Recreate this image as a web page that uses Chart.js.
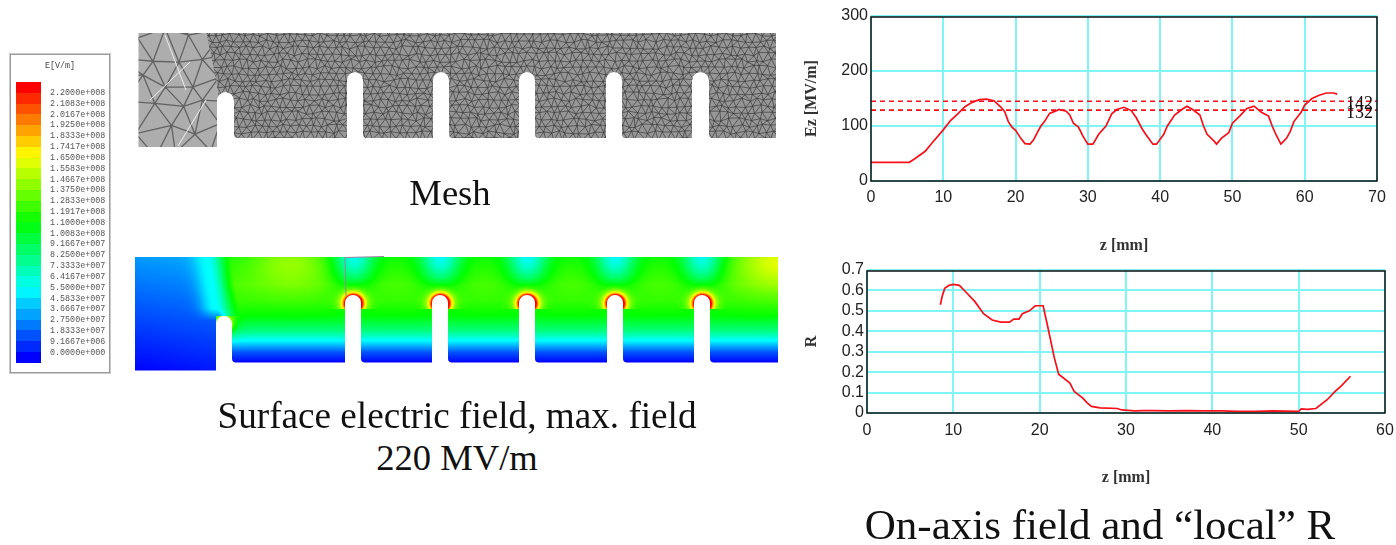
<!DOCTYPE html>
<html>
<head>
<meta charset="utf-8">
<title>Surface field and on-axis field</title>
<script src="https://cdn.jsdelivr.net/npm/chart.js@4/dist/chart.umd.min.js"></script>
<style>
    html, body { margin: 0; padding: 0; background: #fff; width: 1396px; height: 545px; overflow: hidden; }
    canvas, .caption, #scale { position: absolute; }
    #drawing { left: 0; top: 0; filter: blur(0.6px); }
    #ezChart { left: 800px; top: 0; filter: blur(0.35px); }
    #rChart { left: 800px; top: 255px; filter: blur(0.35px); }
    .caption { font-family: "Liberation Serif", serif; font-size: 36.6px; color: #111; white-space: nowrap; transform: translateX(-50%); line-height: 40px; }
    #scale { left: 10px; top: 54px; width: 98px; height: 317px; border: 1px solid #999; box-shadow: 0 0 0 1px #ccc; background: #fff; filter: blur(0.4px); }
    #scale .title { position: absolute; left: 0; width: 100%; top: 6px; text-align: center; font: 8.4px "Liberation Mono", monospace; color: #444; }
    #scale .swatch { position: absolute; left: 5px; width: 25px; }
    #scale .value { position: absolute; left: 39px; font: 8.4px/10px "Liberation Mono", monospace; color: #555; white-space: nowrap; }
</style>
</head>
<body>
<canvas id="drawing" width="800" height="400"></canvas>
<div id="scale"><div class="title">E[V/m]</div></div>
<canvas id="ezChart" width="596" height="255"></canvas>
<canvas id="rChart" width="596" height="290"></canvas>
<div class="caption" style="left:450px;top:173px">Mesh</div>
<div class="caption" style="left:457px;top:396px;font-size:37.2px">Surface electric field, max. field</div>
<div class="caption" style="left:457px;top:438px">220 MV/m</div>
<div class="caption" style="left:1100px;top:505px;font-size:43px">On-axis field and “local” R</div>

<script>
const scaleLabels = [
    '2.2000e+008', '2.1083e+008', '2.0167e+008', '1.9250e+008', '1.8333e+008',
    '1.7417e+008', '1.6500e+008', '1.5583e+008', '1.4667e+008', '1.3750e+008',
    '1.2833e+008', '1.1917e+008', '1.1000e+008', '1.0083e+008', '9.1667e+007',
    '8.2500e+007', '7.3333e+007', '6.4167e+007', '5.5000e+007', '4.5833e+007',
    '3.6667e+007', '2.7500e+007', '1.8333e+007', '9.1667e+006', '0.0000e+000',
];

// on-axis field
const ezZ = [0, 5.3, 6, 7.5, 8.5, 10, 11, 12, 13, 14, 15, 16, 17, 18, 18.5, 19, 19.5, 20, 20.7, 21.3, 22, 22.5, 23, 23.5, 24, 24.7, 25.5, 26, 27, 27.5, 28, 28.7, 29.3, 30, 30.7, 31.5, 32.5, 33.3, 34, 35, 36, 36.7, 37.5, 38, 39, 39.5, 40.5, 41, 42, 43, 43.7, 44.5, 45.5, 46, 46.5, 47.5, 47.8, 48.5, 49.5, 50, 51, 52, 53, 54, 55, 55.5, 56, 56.7, 57.5, 58, 58.5, 59.5, 60, 61, 62, 63, 64, 64.5];
const ezValues = [34, 34, 40, 54, 70, 93, 110, 122, 135, 143, 148, 149, 146, 134, 126, 108, 98, 92, 78, 68, 67, 75, 88, 100, 108, 123, 127, 130, 127, 120, 105, 98, 82, 67, 67, 85, 100, 122, 130, 134, 128, 115, 95, 85, 67, 67, 85, 100, 120, 130, 136, 130, 120, 100, 85, 72, 67, 78, 88, 105, 118, 132, 136, 125, 118, 100, 85, 67, 78, 90, 108, 125, 138, 150, 156, 160, 160, 158];
const ezMarkerValues = [145, 129];
const ezMarkerLabels = ['142', '132'];
const ezXTicks = [0, 10, 20, 30, 40, 50, 60, 70];
const ezYTicks = [0, 100, 200, 300];

// "local" R
const rZ = [8.5, 8.7, 9, 9.5, 10, 10.7, 11.5, 12.5, 13.5, 14.5, 15.5, 16.5, 17, 17.6, 18, 18.8, 19.5, 20.4, 21, 21.7, 22.2, 23.5, 24, 25, 25.5, 26, 27, 29, 29.5, 31, 32, 33, 35, 37, 39, 41, 43, 45, 47, 50, 50.3, 51, 52, 53.3, 54.2, 55, 56];
const rValues = [0.53, 0.57, 0.61, 0.625, 0.63, 0.625, 0.59, 0.545, 0.486, 0.455, 0.445, 0.445, 0.46, 0.46, 0.486, 0.5, 0.525, 0.525, 0.41, 0.27, 0.19, 0.146, 0.105, 0.073, 0.05, 0.032, 0.025, 0.022, 0.015, 0.01, 0.012, 0.012, 0.01, 0.012, 0.01, 0.01, 0.008, 0.008, 0.01, 0.008, 0.02, 0.018, 0.022, 0.065, 0.105, 0.135, 0.18];
const rXTicks = [0, 10, 20, 30, 40, 50, 60];
const rYTicks = [0, 0.1, 0.2, 0.3, 0.4, 0.5, 0.6, 0.7];

const toPoints = (xs, ys) => xs.map((x, i) => ({ x, y: ys[i] }));

function heatColor(v) {
    const t = Math.max(0, Math.min(1, v)) * 4;
    if (t < 1) return [0, 255 * t, 255];
    if (t < 2) return [0, 255, 255 * (2 - t)];
    if (t < 3) return [255 * (t - 2), 255, 0];
    return [255, 255 * (4 - t), 0];
}

// colour scale panel
const scaleBox = document.getElementById('scale');
for (let i = 0; i < 26; i++) {
    const s = document.createElement('div');
    const c = heatColor(1 - i / 25).map(Math.round);
    s.className = 'swatch';
    s.style.top = (27 + i * 10.8) + 'px';
    s.style.height = '11px';
    s.style.background = `rgb(${c.join(',')})`;
    scaleBox.appendChild(s);
}
scaleLabels.forEach((label, i) => {
    const v = document.createElement('div');
    v.className = 'value';
    v.style.top = (33 + i * 10.82) + 'px';
    v.textContent = label;
    scaleBox.appendChild(v);
});

// ---- cavity drawings (illustration, not chart data) ----
const ctx = document.getElementById('drawing').getContext('2d');

function cavityPath(c, left, right, top, blockBottom, bottom, firstSlot, slots) {
    const r = (firstSlot[1] - firstSlot[0]) / 2;
    const fillet = 4;
    c.beginPath();
    c.moveTo(left, top);
    c.lineTo(right, top);
    c.lineTo(right, bottom);
    for (let i = slots.length - 1; i >= 0; i--) {
        const s = slots[i];
        const sr = (s[1] - s[0]) / 2;
        c.lineTo(s[1] + fillet, bottom);
        c.quadraticCurveTo(s[1], bottom, s[1], bottom - fillet);
        c.lineTo(s[1], s[2] + sr);
        c.arc(s[0] + sr, s[2] + sr, sr, 0, Math.PI, true);
        c.lineTo(s[0], bottom);
    }
    c.lineTo(firstSlot[1] + fillet, bottom);
    c.quadraticCurveTo(firstSlot[1], bottom, firstSlot[1], bottom - fillet);
    c.lineTo(firstSlot[1], firstSlot[2] + r);
    c.arc(firstSlot[0] + r, firstSlot[2] + r, r, 0, Math.PI, true);
    c.lineTo(firstSlot[0], blockBottom);
    c.lineTo(left, blockBottom);
    c.closePath();
}

function jitter(i, j, k) {
    const s = Math.sin(i * 127.1 + j * 311.7 + k * 74.7) * 43758.5453;
    return s - Math.floor(s) - 0.5;
}

function drawMeshGrid(c, x0, y0, x1, y1, cell, amount) {
    const p = (i, j) => [
        x0 + (i + (j % 2) * 0.5) * cell + jitter(i, j, 1) * cell * amount,
        y0 + j * cell * 0.87 + jitter(i, j, 2) * cell * amount,
    ];
    const nx = Math.ceil((x1 - x0) / cell) + 2;
    const ny = Math.ceil((y1 - y0) / (cell * 0.87)) + 2;
    c.beginPath();
    for (let j = -1; j < ny; j++) {
        for (let i = -1; i < nx; i++) {
            const a = p(i, j), b = p(i + 1, j), d = p(i + (j % 2 ? 1 : 0), j + 1), e = p(i + (j % 2 ? 0 : -1), j + 1);
            c.moveTo(a[0], a[1]); c.lineTo(b[0], b[1]);
            c.moveTo(a[0], a[1]); c.lineTo(d[0], d[1]);
            c.moveTo(a[0], a[1]); c.lineTo(e[0], e[1]);
        }
    }
    c.stroke();
}

function drawMesh() {
    const slots = [[347, 363, 72], [433, 449, 72], [519, 535, 72], [606, 622, 72], [692, 709, 72]];
    ctx.save();
    cavityPath(ctx, 138.5, 776, 33, 147, 138, [217, 234, 92], slots);
    ctx.clip();
    ctx.fillStyle = '#adadad';
    ctx.fillRect(130, 25, 660, 130);
    ctx.strokeStyle = 'rgba(85,85,85,0.85)';
    ctx.lineWidth = 1.3;
    drawMeshGrid(ctx, 138, 33, 205, 150, 28, 0.5);
    // light streaks in the coarse part
    ctx.strokeStyle = '#eee';
    ctx.lineWidth = 1;
    ctx.beginPath();
    ctx.moveTo(165, 35); ctx.lineTo(186, 90);
    ctx.moveTo(178, 146); ctx.lineTo(206, 100);
    ctx.moveTo(150, 100); ctx.lineTo(190, 62);
    ctx.stroke();
    ctx.fillStyle = '#969696';
    ctx.beginPath();
    ctx.moveTo(205, 25); ctx.lineTo(790, 25); ctx.lineTo(790, 150); ctx.lineTo(218, 150); ctx.lineTo(218, 90);
    ctx.closePath();
    ctx.fill();
    ctx.clip();
    ctx.strokeStyle = 'rgba(50,50,50,0.75)';
    ctx.lineWidth = 0.85;
    drawMeshGrid(ctx, 205, 28, 780, 142, 7.5, 0.5);
    ctx.restore();
}

function drawField() {
    const slotTips = [[353, 303], [440, 303], [527, 303], [615, 303], [702, 303]];
    const x0 = 135, x1 = 779, y0 = 257, y1 = 371;
    const img = ctx.createImageData(x1 - x0, y1 - y0);
    const ramp = [[362, 0.0], [352, 0.08], [340, 0.25], [330, 0.38], [315, 0.5], [300, 0.55], [285, 0.57], [257, 0.52]];
    const band = (y) => {
        for (let k = 1; k < ramp.length; k++) {
            if (y >= ramp[k][0]) {
                const t = (y - ramp[k][0]) / (ramp[k - 1][0] - ramp[k][0]);
                return ramp[k][1] + t * (ramp[k - 1][1] - ramp[k][1]);
            }
        }
        return ramp[ramp.length - 1][1];
    };
    for (let y = y0; y < y1; y++) {
        for (let x = x0; x < x1; x++) {
            const base = 0.15 - 0.15 * (y - y0) / 114 + 0.02 * (x - x0) / 80;
            let main = band(y);
            main += 0.12 * Math.exp(-Math.pow((x - 290) / 40, 2)) * Math.exp(-Math.pow((y - 257) / 30, 2));
            main += 0.2 * Math.exp(-Math.pow((x - 779) / 45, 2)) * Math.exp(-Math.pow((y - 257) / 30, 2));
            slotTips.forEach((t) => {
                main -= 0.26 * Math.exp(-Math.pow((x - t[0]) / 20, 2)) * Math.exp(-Math.pow((y - 257) / 30, 2));
                if (y < t[1] + 6) {
                    const d = Math.hypot(x - t[0], y - t[1]);
                    main += 0.6 * Math.exp(-Math.max(0, d - 8) / 4);
                }
            });
            main += 0.18 * Math.exp(-Math.max(0, Math.hypot(x - 224, y - 324) - 8) / 4);

            const streakX = y < 316 ? 206 + (y - 257) / 59 * 10 : 216;
            const streak = base + (0.25 - base) * Math.max(0, Math.min(1, 1 - (y - 308) / 12));
            let v;
            if (y >= 316 && x >= 216) {
                v = main;
            } else if (x <= streakX) {
                v = base + (streak - base) * Math.exp(-Math.pow((streakX - x) / 14, 2));
            } else {
                const t = Math.min(1, (x - streakX) / 26);
                v = streak + (main - streak) * t * t * (3 - 2 * t);
            }
            const c = heatColor(v);
            const o = ((y - y0) * (x1 - x0) + (x - x0)) * 4;
            img.data[o] = c[0]; img.data[o + 1] = c[1]; img.data[o + 2] = c[2]; img.data[o + 3] = 255;
        }
    }
    const tmp = document.createElement('canvas');
    tmp.width = 800; tmp.height = 400;
    tmp.getContext('2d').putImageData(img, x0, y0);
    ctx.save();
    cavityPath(ctx, 135, 778, 257, 370.5, 362.5, [216, 232, 316], [[345, 361, 295], [432, 448, 295], [519, 535, 295], [607, 623, 295], [694, 710, 295]]);
    ctx.clip();
    ctx.drawImage(tmp, 0, 0);
    ctx.restore();
    // small grey selection mark left by the solver
    ctx.strokeStyle = '#a080a0';
    ctx.lineWidth = 1;
    ctx.beginPath();
    ctx.moveTo(346, 296);
    ctx.lineTo(345, 257.5);
    ctx.lineTo(384, 256.5);
    ctx.stroke();
}

drawMesh();
drawField();

// ---- charts ----
const framePlugin = {
    id: 'frame',
    afterDatasetsDraw(chart) {
        const a = chart.chartArea;
        const c = chart.ctx;
        c.save();
        c.strokeStyle = '#111';
        c.lineWidth = 1.5;
        c.beginPath();
        c.moveTo(a.left, a.top + 1);
        c.lineTo(a.left, a.bottom);
        c.lineTo(a.right, a.bottom);
        c.lineTo(a.right, a.top + 1);
        c.closePath();
        c.stroke();
        c.restore();
    },
};

const markerLabelsPlugin = {
    id: 'markerLabels',
    afterDatasetsDraw(chart) {
        const c = chart.ctx;
        c.save();
        c.font = '18px "Liberation Serif", serif';
        c.fillStyle = '#111';
        c.textAlign = 'right';
        c.textBaseline = 'middle';
        ezMarkerValues.forEach((v, i) => {
            c.fillText(ezMarkerLabels[i], chart.scales.x.right - 4, chart.scales.y.getPixelForValue(v) + 3);
        });
        c.restore();
    },
};

function lineOptions(cfg) {
    return {
        responsive: false,
        animation: false,
        layout: { padding: { top: cfg.top, right: cfg.right } },
        plugins: { legend: { display: false }, tooltip: { enabled: false } },
        scales: {
            x: {
                type: 'linear',
                min: cfg.xTicks[0],
                max: cfg.xTicks[cfg.xTicks.length - 1],
                afterBuildTicks: (axis) => { axis.ticks = cfg.xTicks.map((value) => ({ value })); },
                afterFit: (axis) => { axis.height = cfg.xHeight; axis.paddingLeft = 0; axis.paddingRight = 0; },
                grid: { color: '#7ff5f5', lineWidth: 2, drawTicks: false },
                border: { display: false },
                ticks: { color: '#222', font: { family: 'Liberation Sans', size: 16 }, padding: cfg.xTickPad, maxRotation: 0, autoSkip: false },
                title: { display: true, text: 'z [mm]', color: '#333', font: { family: 'Liberation Serif', size: 16, weight: 'bold' }, padding: { top: 0, bottom: cfg.xTitleBottom } },
            },
            y: {
                min: cfg.yTicks[0],
                max: cfg.yTicks[cfg.yTicks.length - 1],
                afterBuildTicks: (axis) => { axis.ticks = cfg.yTicks.map((value) => ({ value })); },
                afterFit: (axis) => { axis.width = cfg.yWidth; axis.paddingTop = 0; axis.paddingBottom = 0; },
                grid: { color: '#7ff5f5', lineWidth: 2, drawTicks: false },
                border: { display: false },
                ticks: { color: '#222', font: { family: 'Liberation Sans', size: 16 }, padding: 3, autoSkip: false, callback: (v) => String(v) },
                title: { display: true, text: cfg.yTitle, color: '#333', font: { family: 'Liberation Serif', size: 16, weight: 'bold' }, padding: { top: 2, bottom: 0 } },
            },
        },
    };
}

const redLine = { borderColor: '#f5101a', borderWidth: 1.7, pointRadius: 0, tension: 0, fill: false };

new Chart(document.getElementById('ezChart').getContext('2d'), {
    type: 'line',
    data: {
        datasets: [
            { ...redLine, data: toPoints(ezZ, ezValues) },
            { ...redLine, borderDash: [5, 4], data: toPoints([0, 70], [ezMarkerValues[0], ezMarkerValues[0]]) },
            { ...redLine, borderDash: [5, 4], data: toPoints([0, 70], [ezMarkerValues[1], ezMarkerValues[1]]) },
        ],
    },
    options: lineOptions({
        top: 16, right: 19, xHeight: 74, yWidth: 71, xTitleBottom: 0, xTickPad: 7,
        xTicks: ezXTicks, yTicks: ezYTicks, yTitle: 'Ez [MV/m]',
    }),
    plugins: [framePlugin, markerLabelsPlugin],
});

new Chart(document.getElementById('rChart').getContext('2d'), {
    type: 'line',
    data: { datasets: [{ ...redLine, data: toPoints(rZ, rValues) }] },
    options: lineOptions({
        top: 15, right: 11, xHeight: 132, yWidth: 67, xTitleBottom: 58, xTickPad: 8,
        xTicks: rXTicks, yTicks: rYTicks, yTitle: 'R',
    }),
    plugins: [framePlugin],
});
</script>
</body>
</html>
